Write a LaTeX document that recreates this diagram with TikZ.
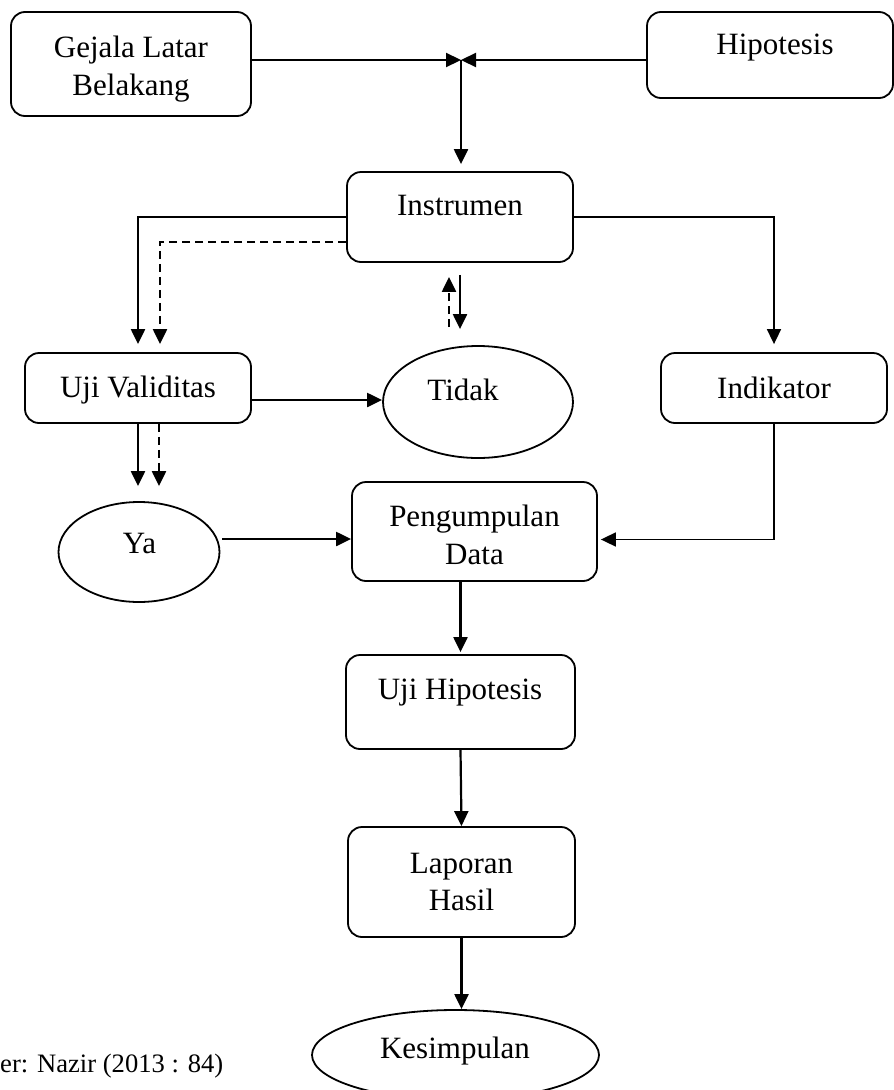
\documentclass[tikz,border=0pt]{standalone}
\usepackage{fontspec}
\setmainfont{Liberation Serif}
\usetikzlibrary{arrows.meta,shapes.geometric,calc}
\begin{document}
\begin{tikzpicture}[x=1pt,y=-1pt,
  txt/.style={font=\fontsize{31}{37.5}\selectfont, align=center, inner sep=0pt},
  box/.style={draw, rounded corners=14pt, line width=1.8pt, inner sep=0pt, txt},
  oval/.style={draw, ellipse, line width=1.8pt, inner sep=0pt, txt},
  arr/.style={-{Triangle[length=15pt,width=14pt]}, line width=2.2pt},
  thinarr/.style={arr, line width=1.7pt},
  darr/.style={arr, dash pattern=on 8pt off 5pt}]
\clip (0,0) rectangle (894,1090);
\fill[white] (0,0) rectangle (894,1090);
% boxes
\node[box, minimum width=240pt, minimum height=104pt] (gej) at (131,64) {};
\node[txt] (gejtxt) at (131,69) {Gejala Latar\\Belakang};
\node[box, minimum width=246pt, minimum height=86pt] (hip) at (770,55) {};
\node[txt] (hiptxt) at (775,48) {Hipotesis};
\node[box, minimum width=226pt, minimum height=90pt] (instr) at (460,217) {};
\node[txt] (instrtxt) at (460,205) {Instrumen};
\node[box, minimum width=226pt, minimum height=70pt] (uji) at (138,388) {};
\node[txt] (ujitxt) at (138,390) {Uji Validitas};
\node[oval, minimum width=190pt, minimum height=112pt] (tidak) at (478,402) {};
\node[txt] (tidaktxt) at (463,390) {Tidak};
\node[box, minimum width=226pt, minimum height=70pt] (indik) at (774,388) {Indikator};
\node[oval, minimum width=161pt, minimum height=100pt] (ya) at (139,552) {};
\node[txt] (yatxt) at (139.5,543) {Ya};
\node[box, minimum width=245pt, minimum height=99pt] (peng) at (474.5,531.5) {};
\node[txt] (pengtxt) at (474.5,535) {Pengumpulan\\Data};
\node[box, minimum width=229pt, minimum height=94pt] (ujih) at (460.5,702) {};
\node[txt] (ujihtxt) at (460,693) {Uji Hipotesis};
\node[box, minimum width=227pt, minimum height=110pt] (lap) at (461.5,882) {Laporan\\Hasil};
\node[oval, minimum width=287pt, minimum height=90pt] (kes) at (455.5,1055) {};
\node[txt] (kestxt) at (455,1051) {Kesimpulan};
\node[txt, font=\fontsize{26.6}{32}\selectfont, anchor=west] (src) at (0,1066) {er: Nazir (2013 : 84)};
% connectors
\coordinate (J) at (461,60);
\draw[arr] (J -| gej.east) -- (J);
\draw[arr] (J -| hip.west) -- (J);
\draw[arr, shorten >=7pt] (J) -- (J |- instr.north);
\draw[arr, shorten >=8pt] (instr.west) -| (uji.north);
\draw[darr, shorten >=8pt] ([yshift=-25pt]instr.west) -| ([xshift=22pt]uji.north);
\draw[thinarr, shorten >=8pt] (instr.east) -| (indik.north);
\draw[arr, shorten <=12pt, shorten >=16pt] (instr.south) -- (instr.south |- tidak.north);
\draw[darr, shorten <=18pt, shorten >=14pt] ([xshift=-11pt]instr.south |- tidak.north) -- ([xshift=-11pt]instr.south);
\draw[arr] ([yshift=-12pt]uji.east) -- ([yshift=-12pt]uji.east -| tidak.west);
\draw[arr, shorten >=15pt] (uji.south) -- (uji.south |- ya.north);
\draw[darr, shorten >=15pt] ([xshift=21pt]uji.south) -- ([xshift=21pt]uji.south |- ya.north);
\draw[arr] ([shift={(2pt,13pt)}]ya.east) -- ([yshift=13pt]ya.east -| peng.west);
\draw[thinarr, shorten >=3pt] (indik.south) |- ([yshift=-8pt]peng.east);
\draw[arr, shorten >=2pt] (ujih.north |- peng.south) -- (ujih.north);
\draw[arr] (ujih.south) -- (lap.north);
\draw[arr] (lap.south) -- (lap.south |- kes.north);
\end{tikzpicture}
\end{document}
